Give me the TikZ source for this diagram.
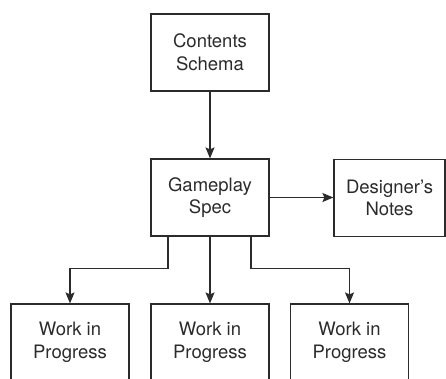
\documentclass[tikz,border=0pt]{standalone}
\usepackage{fontspec}
\setmainfont{TeX Gyre Heros}
\usepackage{xcolor}
\usetikzlibrary{arrows.meta,positioning}
\definecolor{ink}{HTML}{2B2B2B}

\begin{document}
\begin{tikzpicture}[x=1pt,y=1pt,font=\fontsize{18.5}{22.7}\selectfont,>=Stealth]
\tikzset{
  block/.style={draw=ink,line width=1.2pt,text=ink,align=center,minimum width=118pt,minimum height=77pt,inner sep=0pt},
  flow/.style={->,draw=ink,line width=1.2pt,>={Stealth[length=11pt,width=9pt,inset=2pt]}}
}
\useasboundingbox (0,0) rectangle (446,-378);
\clip (0,0) rectangle (446,-378);
\node[block] (schema) at (210,-52.5) {Contents\\Schema};
\node[block] (spec) at (210,-197.5) {Gameplay\\Spec};
\node[block,minimum width=111pt] (notes) at (389.5,-198) {Designer’s\\Notes};
\node[block] (wip1) at (70,-342.5) {Work in\\Progress};
\node[block] (wip2) at (210,-342.5) {Work in\\Progress};
\node[block] (wip3) at (349.5,-342.5) {Work in\\Progress};

\draw[flow] (schema) -- (spec);
\draw[flow] (spec.east) -- (spec.east -| notes.west);
\draw[flow] ([xshift=-42pt]spec.south) -- ++(0,-32) -| (wip1.north);
\draw[flow] (spec) -- (wip2);
\draw[flow] ([xshift=41pt]spec.south) -- ++(0,-32) -| (wip3.north);
\end{tikzpicture}
\end{document}
